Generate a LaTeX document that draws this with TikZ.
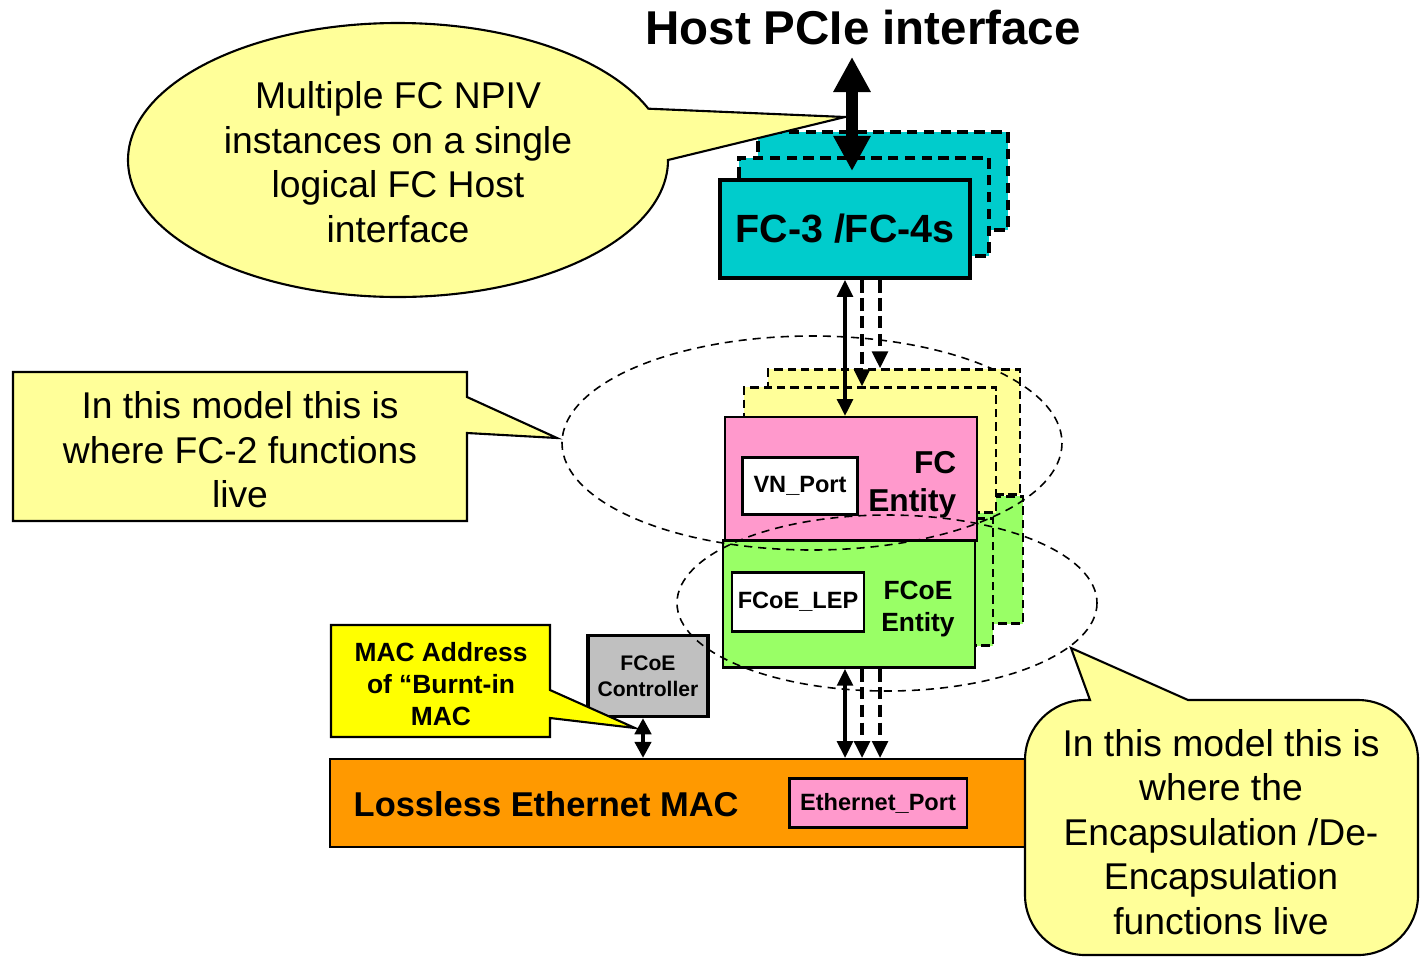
\documentclass[tikz,border=0pt]{standalone}
\usepackage{fontspec}
\setmainfont{Liberation Sans}
\usetikzlibrary{arrows.meta}

\definecolor{cyanfc}{HTML}{00CCCC}
\definecolor{jaunepale}{HTML}{FFFF99}
\definecolor{jaunevif}{HTML}{FFFF00}
\definecolor{rose}{HTML}{FF99CC}
\definecolor{vert}{HTML}{99FF66}
\definecolor{gris}{HTML}{C0C0C0}
\definecolor{orangemac}{HTML}{FF9900}

\tikzset{
  boite/.style={draw, line width=0.6pt, inner sep=0pt, font=\bfseries\fontsize{6.7}{8}\selectfont},
  pile/.style={draw, line width=0.7pt, dash pattern=on 2.4pt off 1.4pt, inner sep=0pt},
  bulle/.style={draw, line width=0.6pt, fill=jaunepale},
  texte/.style={align=center, inner sep=0pt, font=\fontsize{10.6}{12.66}\selectfont},
  fleche/.style={line width=0.9pt, >={Triangle[width=4.5pt,length=4.8pt]}, <->},
  tiret/.style={line width=0.9pt, dash pattern=on 3.6pt off 1.5pt, >={Triangle[width=4.5pt,length=4.8pt]}, ->},
  zone/.style={line width=0.45pt, dash pattern=on 2.3pt off 1.7pt},
}

\begin{document}
\begin{tikzpicture}[x=0.01cm, y=-0.01cm]
\useasboundingbox (0,0) rectangle (1421,957);

% titre
\node[font=\bfseries\fontsize{13.5}{16}\selectfont, anchor=base] (pcie) at (863,44) {Host PCIe interface};

% pile FC-3 / FC-4
\node[pile, fill=cyanfc, line width=1.1pt, dash pattern=on 3pt off 1.8pt, minimum width=2.5cm, minimum height=0.98cm] (fc34c) at (883,181) {};
\node[pile, fill=cyanfc, line width=1.1pt, dash pattern=on 3pt off 1.8pt, minimum width=2.5cm, minimum height=0.98cm] (fc34b) at (864,207) {};
\node[boite, fill=cyanfc, line width=1.1pt, minimum width=2.5cm, minimum height=0.98cm, font=\bfseries\fontsize{11.2}{13}\selectfont] (fc34) at (845,229) {FC-3 /FC-4s};

% piles FCoE et FC (derriere)
\node[pile, fill=vert, minimum width=2.52cm, minimum height=1.27cm] (grc) at (897,560) {};
\node[pile, fill=vert, minimum width=2.52cm, minimum height=1.27cm] (grb) at (867,582) {};
\node[pile, fill=jaunepale, minimum width=2.52cm, minimum height=1.25cm] (fcc) at (894,432) {};
\node[pile, fill=jaunepale, minimum width=2.52cm, minimum height=1.25cm] (fcb) at (870,450) {};

% FC Entity
\node[boite, fill=rose, minimum width=2.52cm, minimum height=1.24cm] (fc) at (851,479) {};
\node[boite, fill=white, minimum width=1.15cm, minimum height=0.57cm] (vnport) at (800,486) {VN\_Port};
\node[anchor=east, align=right, inner sep=0pt, font=\bfseries\fontsize{9}{10.8}\selectfont] (fctxt) at (957,485) {FC\\Entity};

% FCoE Entity
\node[boite, fill=vert, line width=0.75pt, minimum width=2.52cm, minimum height=1.27cm] (gr) at (849,604) {};
\node[boite, fill=white, minimum width=1.32cm, minimum height=0.59cm] (lep) at (798,602) {FCoE\_LEP};
\node[align=center, inner sep=0pt, font=\bfseries\fontsize{7.5}{9.1}\selectfont] (grtxt) at (918,609) {FCoE\\Entity};

% controleur et MAC
\node[boite, fill=gris, line width=0.9pt, minimum width=1.2cm, minimum height=0.81cm, align=center, font=\bfseries\fontsize{6}{7.4}\selectfont] (ctrl) at (648,676) {FCoE\\Controller};
\node[boite, fill=orangemac, minimum width=7.09cm, minimum height=0.88cm] (mac) at (685,803) {};
\node[anchor=west, inner sep=0pt, font=\bfseries\fontsize{9.8}{12}\selectfont] (mactxt) at (353,804) {Lossless Ethernet MAC};
\node[boite, fill=rose, minimum width=1.77cm, minimum height=0.49cm] (ethport) at (878,803) {Ethernet\_Port};

% liaisons
\draw[fleche] (fc34.south) -- (fc34.south |- fc.north);
\draw[tiret] ([xshift=1.7mm]fc34.south) -- ([xshift=1.7mm]fc34.south |- fcb.north);
\draw[tiret] ([xshift=3.5mm]fc34.south) -- ([xshift=3.5mm]fc34.south |- fcc.north);
\draw[fleche] (fc34.south |- gr.south) -- (fc34.south |- mac.north);
\draw[tiret] ([xshift=1.7mm]fc34.south |- gr.south) -- ([xshift=1.7mm]fc34.south |- mac.north);
\draw[tiret] ([xshift=3.5mm]fc34.south |- gr.south) -- ([xshift=3.5mm]fc34.south |- mac.north);
\draw[fleche, line width=1.2pt, >={Triangle[width=4.6pt,length=4.6pt]}] ([xshift=-0.5mm]ctrl.south) -- ([xshift=-0.5mm]ctrl.south |- mac.north);

% zones en pointilles
\draw[zone] (812,443) ellipse [x radius=250, y radius=107];
\draw[zone] (887,603) ellipse [x radius=210, y radius=88];

% bulles
\draw[bulle] (845,117) -- (668,160) arc[start angle=0, end angle=338, x radius=270, y radius=137] -- cycle;
\node[texte] (npiv) at (398,162) {Multiple FC NPIV\\instances on a single\\logical FC Host\\interface};

\draw[bulle] (13,372) -- (467,372) -- (467,397) -- (557,438) -- (467,433) -- (467,521) -- (13,521) -- cycle;
\node[texte] (fc2) at (240,450) {In this model this is\\where FC-2 functions\\live};

\draw[bulle, fill=jaunevif] (331,625) -- (550,625) -- (550,690) -- (635,728) -- (550,718) -- (550,737) -- (331,737) -- cycle;
\node[align=center, inner sep=0pt, font=\bfseries\fontsize{7.5}{9.1}\selectfont] (burnt) at (441,684) {MAC Address\\of “Burnt-in\\MAC};

\draw[bulle] (1090,700) -- (1071,648) -- (1188,700) [rounded corners=0.6cm] -- (1418,700) -- (1418,955) -- (1025,955) -- (1025,700) [sharp corners] -- cycle;
\node[texte] (encap) at (1221,832) {In this model this is\\where the\\Encapsulation /De-\\Encapsulation\\functions live};

% grosse fleche vers l'hote
\draw[line width=3.4pt, >={Triangle[width=10pt,length=10pt]}, <->] ([xshift=0.7mm]fc34.north |- pcie.south) -- ([xshift=0.7mm, yshift=0.7mm]fc34.north);
\end{tikzpicture}
\end{document}
